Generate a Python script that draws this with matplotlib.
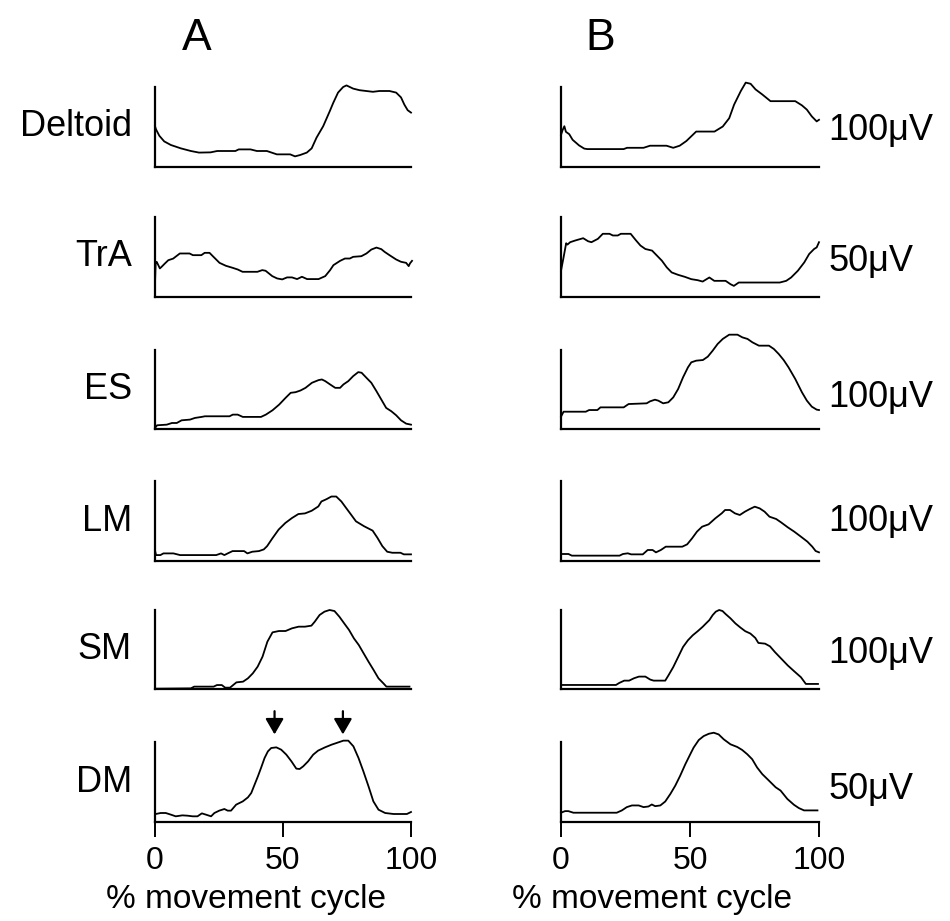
import matplotlib
matplotlib.use("Agg")
import matplotlib.pyplot as plt

plt.rcParams['font.family'] = ['Liberation Sans', 'DejaVu Sans']

# ---------------- data (x: % movement cycle, y: fraction of scale bar) ----------------
muscles = ["Deltoid", "TrA", "ES", "LM", "SM", "DM"]
scale_labels = ["100μV", "50μV", "100μV", "100μV", "100μV", "50μV"]
xticks = [0, 50, 100]
xlabel = "% movement cycle"
panel_titles = ["A", "B"]
arrow_x = [46.7, 73.4]

deltoid_a_x = [0, 0.4, 1.7, 3.6, 6.2, 10.1, 14.0, 17.2, 21.7, 24.3, 31.4, 32.7, 37.3, 39.8, 43.7, 47.6, 52.8, 54.7, 56.7, 59.3, 61.2, 63.1, 65.7, 68.3, 69.6, 71.5, 73.5, 74.8, 77.4, 79.9, 85.1, 87.7, 91.6, 94.2, 96.1, 97.4, 98.7, 100]
deltoid_a_y = [0.51, 0.47, 0.39, 0.32, 0.275, 0.233, 0.2, 0.18, 0.183, 0.2, 0.2, 0.22, 0.22, 0.2, 0.2, 0.158, 0.158, 0.133, 0.15, 0.18, 0.233, 0.367, 0.51, 0.7, 0.8, 0.93, 1.0, 1.02, 0.98, 0.96, 0.94, 0.95, 0.95, 0.93, 0.87, 0.78, 0.71, 0.68]

deltoid_b_x = [0, 0.6, 1.3, 1.9, 3.2, 4.5, 7.0, 9.0, 10.2, 24.3, 25.6, 32.0, 34.5, 40.9, 43.5, 46.0, 48.6, 52.4, 59.5, 62.7, 65.2, 67.1, 69.7, 71.6, 73.5, 75.4, 78.0, 81.2, 90.8, 93.4, 95.3, 97.2, 99.1, 100]
deltoid_b_y = [0.40, 0.46, 0.51, 0.44, 0.41, 0.34, 0.27, 0.23, 0.224, 0.224, 0.24, 0.24, 0.266, 0.266, 0.24, 0.266, 0.325, 0.443, 0.443, 0.506, 0.61, 0.78, 0.95, 1.055, 1.04, 0.97, 0.907, 0.823, 0.823, 0.77, 0.717, 0.633, 0.57, 0.59]

tra_a_x = [0, 0.26, 0.65, 1.3, 1.9, 2.6, 3.9, 5.2, 7.1, 9.7, 13.5, 14.8, 18.1, 19.4, 21.3, 22.6, 25.2, 27.7, 30.3, 32.3, 34.2, 40.0, 41.9, 43.2, 45.8, 47.7, 49.7, 51.6, 53.5, 55.5, 57.4, 59.4, 63.9, 66.5, 68.4, 69.7, 72.3, 74.2, 76.1, 77.4, 80.6, 82.6, 84.5, 86.5, 88.4, 89.7, 91.6, 94.2, 96.1, 98.1, 99.1, 99.6, 100.4]
tra_a_y = [0.17, 0.427, 0.44, 0.398, 0.357, 0.378, 0.42, 0.46, 0.48, 0.544, 0.544, 0.523, 0.523, 0.552, 0.552, 0.51, 0.427, 0.39, 0.365, 0.344, 0.315, 0.315, 0.336, 0.328, 0.261, 0.232, 0.22, 0.245, 0.245, 0.224, 0.253, 0.224, 0.224, 0.261, 0.336, 0.398, 0.452, 0.481, 0.481, 0.502, 0.51, 0.544, 0.593, 0.618, 0.598, 0.564, 0.523, 0.469, 0.44, 0.427, 0.386, 0.42, 0.452]

tra_b_x = [0, 1.0, 2.0, 2.5, 3.55, 5.5, 8.6, 10.5, 11.8, 14.3, 16.2, 18.8, 20.1, 22.0, 23.2, 27.0, 28.9, 30.8, 32.7, 35.3, 37.2, 39.1, 41.0, 42.9, 45.4, 48.0, 50.5, 53.0, 54.9, 57.5, 59.4, 63.8, 65.7, 67.0, 68.9, 84.8, 87.3, 89.2, 91.8, 94.3, 96.2, 98.1, 99.1, 100]
tra_b_y = [0.328, 0.496, 0.672, 0.655, 0.685, 0.706, 0.735, 0.697, 0.685, 0.727, 0.79, 0.79, 0.769, 0.769, 0.79, 0.79, 0.714, 0.643, 0.60, 0.58, 0.517, 0.454, 0.37, 0.307, 0.277, 0.252, 0.223, 0.21, 0.193, 0.244, 0.202, 0.202, 0.16, 0.139, 0.181, 0.181, 0.202, 0.244, 0.328, 0.433, 0.538, 0.60, 0.62, 0.685]

es_a_x = [0, 0.8, 4.6, 6.6, 8.5, 10.4, 13.7, 15.6, 18.2, 19.5, 29.1, 30.4, 32.3, 34.3, 41.4, 43.3, 45.9, 48.5, 51.0, 53.0, 54.9, 56.8, 58.8, 61.3, 63.9, 65.2, 66.5, 68.4, 70.4, 72.3, 73.6, 75.5, 77.4, 79.4, 80.7, 82.6, 84.5, 86.5, 88.4, 90.3, 92.3, 94.2, 96.1, 98.1, 100]
es_a_y = [0.013, 0.047, 0.055, 0.076, 0.076, 0.11, 0.119, 0.14, 0.153, 0.161, 0.161, 0.182, 0.182, 0.153, 0.153, 0.182, 0.237, 0.309, 0.394, 0.458, 0.466, 0.487, 0.521, 0.585, 0.619, 0.627, 0.606, 0.564, 0.521, 0.521, 0.564, 0.606, 0.669, 0.72, 0.712, 0.648, 0.585, 0.479, 0.373, 0.267, 0.225, 0.174, 0.11, 0.068, 0.055]

es_b_x = [0, 1.0, 9.6, 10.9, 14.1, 15.3, 24.3, 26.2, 33.2, 34.5, 36.4, 37.7, 39.6, 41.6, 43.5, 45.4, 47.3, 49.2, 50.5, 52.4, 55.0, 56.9, 58.8, 60.7, 62.7, 65.2, 68.4, 70.3, 72.3, 74.2, 76.7, 80.6, 82.5, 84.4, 86.3, 88.2, 90.8, 93.4, 95.3, 97.2, 99.1, 100]
es_b_y = [0.156, 0.219, 0.219, 0.24, 0.24, 0.274, 0.274, 0.316, 0.325, 0.35, 0.371, 0.359, 0.325, 0.338, 0.40, 0.506, 0.654, 0.78, 0.844, 0.865, 0.873, 0.916, 0.992, 1.076, 1.14, 1.194, 1.194, 1.16, 1.14, 1.097, 1.055, 1.055, 1.013, 0.949, 0.873, 0.78, 0.633, 0.464, 0.359, 0.283, 0.245, 0.24]

lm_a_x = [0, 0.4, 2.1, 3.3, 7.2, 9.8, 23.9, 25.8, 27.1, 28.4, 30.3, 34.8, 36.1, 38.0, 40.6, 42.5, 43.8, 45.8, 48.3, 50.9, 53.5, 56.0, 58.6, 61.2, 63.8, 65.0, 67.0, 68.9, 70.8, 72.8, 74.7, 76.6, 78.5, 81.7, 85.0, 86.9, 88.8, 90.7, 92.7, 95.9, 97.2, 100]
lm_a_y = [0.132, 0.074, 0.074, 0.095, 0.095, 0.074, 0.074, 0.095, 0.074, 0.095, 0.124, 0.124, 0.095, 0.116, 0.124, 0.145, 0.186, 0.281, 0.393, 0.475, 0.537, 0.587, 0.595, 0.628, 0.682, 0.744, 0.773, 0.806, 0.806, 0.744, 0.661, 0.579, 0.496, 0.434, 0.38, 0.289, 0.186, 0.116, 0.103, 0.103, 0.083, 0.083]

lm_b_x = [0, 2.9, 4.2, 22.7, 24.0, 25.9, 27.2, 31.7, 33.6, 35.5, 36.8, 38.7, 40.6, 47.0, 48.9, 50.8, 52.7, 54.7, 57.2, 59.8, 62.3, 63.6, 65.5, 67.4, 69.3, 71.3, 73.2, 75.1, 77.0, 78.9, 80.8, 83.4, 85.3, 87.9, 90.4, 93.0, 95.5, 97.4, 98.7, 100]
lm_b_y = [0.0875, 0.0875, 0.067, 0.067, 0.0875, 0.096, 0.083, 0.083, 0.1375, 0.1375, 0.108, 0.1375, 0.179, 0.179, 0.208, 0.283, 0.367, 0.429, 0.458, 0.533, 0.596, 0.6375, 0.6375, 0.596, 0.575, 0.617, 0.65, 0.679, 0.658, 0.617, 0.554, 0.525, 0.483, 0.421, 0.367, 0.304, 0.242, 0.179, 0.125, 0.108]

sm_a_x = [0, 14.0, 15.3, 22.9, 24.2, 26.1, 27.4, 29.3, 31.8, 34.4, 36.3, 38.2, 40.1, 42.0, 43.9, 45.9, 48.4, 51.0, 53.5, 56.1, 58.6, 61.1, 62.4, 64.3, 66.2, 68.2, 70.1, 72.0, 73.9, 75.8, 77.7, 79.6, 81.5, 83.4, 85.4, 87.3, 89.2, 90.4, 99.4]
sm_a_y = [0.004, 0.008, 0.03, 0.03, 0.05, 0.05, 0.017, 0.017, 0.084, 0.093, 0.135, 0.198, 0.283, 0.409, 0.599, 0.717, 0.734, 0.734, 0.768, 0.789, 0.789, 0.802, 0.852, 0.937, 0.979, 1.0, 0.987, 0.916, 0.831, 0.747, 0.641, 0.557, 0.451, 0.346, 0.24, 0.135, 0.072, 0.03, 0.03]

sm_b_x = [0, 21.3, 22.6, 24.5, 26.4, 28.3, 30.2, 32.7, 34.6, 35.9, 40.4, 41.6, 43.5, 45.4, 47.3, 49.2, 51.1, 53.0, 54.9, 56.2, 57.5, 58.8, 60.0, 61.3, 62.6, 63.8, 65.7, 67.6, 69.5, 71.4, 73.4, 75.3, 76.5, 79.1, 81.0, 82.9, 85.4, 87.9, 90.5, 93.0, 94.9, 99.6]
sm_b_y = [0.051, 0.051, 0.077, 0.106, 0.106, 0.136, 0.157, 0.157, 0.119, 0.106, 0.106, 0.17, 0.277, 0.404, 0.532, 0.617, 0.681, 0.732, 0.787, 0.83, 0.872, 0.936, 0.979, 1.0, 0.987, 0.949, 0.894, 0.83, 0.779, 0.732, 0.702, 0.647, 0.583, 0.574, 0.54, 0.468, 0.383, 0.298, 0.221, 0.149, 0.064, 0.064]

dm_a_x = [0.3, 2.2, 4.2, 6.2, 8.1, 10.7, 12.7, 14.7, 16.6, 18.3, 19.9, 21.9, 23.2, 25.1, 27.1, 28.4, 29.7, 31.7, 34.3, 36.3, 37.6, 38.9, 40.2, 41.5, 42.8, 44.1, 45.4, 47.4, 49.3, 51.3, 53.3, 55.2, 56.5, 57.9, 59.8, 61.8, 63.7, 66.4, 69.0, 70.9, 73.6, 75.5, 77.5, 79.5, 81.4, 83.4, 85.3, 87.3, 89.9, 93.2, 98.4, 100]
dm_a_y = [0.1, 0.1125, 0.1125, 0.092, 0.071, 0.083, 0.079, 0.071, 0.071, 0.108, 0.092, 0.071, 0.1125, 0.142, 0.1625, 0.142, 0.142, 0.217, 0.258, 0.308, 0.3625, 0.467, 0.571, 0.683, 0.8, 0.883, 0.925, 0.933, 0.904, 0.842, 0.758, 0.667, 0.6625, 0.696, 0.758, 0.842, 0.892, 0.933, 0.967, 0.9875, 1.017, 1.017, 0.946, 0.8, 0.633, 0.446, 0.258, 0.154, 0.1125, 0.1, 0.1, 0.125]

dm_b_x = [0, 1.55, 2.85, 4.8, 21.6, 23.6, 25.5, 27.5, 30.1, 32.0, 33.9, 35.2, 36.5, 38.5, 40.4, 42.4, 44.3, 46.2, 48.2, 50.1, 51.4, 53.4, 55.3, 57.3, 59.2, 61.1, 63.1, 65.7, 68.3, 70.2, 72.2, 74.1, 76.0, 78.0, 80.6, 83.2, 85.1, 87.7, 90.3, 92.2, 94.2, 99.4]
dm_b_y = [0.116, 0.136, 0.136, 0.116, 0.116, 0.145, 0.186, 0.207, 0.207, 0.186, 0.194, 0.219, 0.198, 0.207, 0.256, 0.351, 0.455, 0.579, 0.723, 0.847, 0.93, 1.025, 1.074, 1.103, 1.116, 1.095, 1.033, 0.971, 0.938, 0.901, 0.847, 0.785, 0.682, 0.599, 0.517, 0.434, 0.393, 0.289, 0.215, 0.174, 0.145, 0.145]

col_a = [(deltoid_a_x, deltoid_a_y), (tra_a_x, tra_a_y), (es_a_x, es_a_y),
         (lm_a_x, lm_a_y), (sm_a_x, sm_a_y), (dm_a_x, dm_a_y)]
col_b = [(deltoid_b_x, deltoid_b_y), (tra_b_x, tra_b_y), (es_b_x, es_b_y),
         (lm_b_x, lm_b_y), (sm_b_x, sm_b_y), (dm_b_x, dm_b_y)]

# ---------------- layout (pixels) ----------------
W, H = 950, 921
fig = plt.figure(figsize=(W / 100, H / 100), dpi=100)
row_top = [87, 217, 350, 481, 610, 742]
row_bot = [167, 297, 429, 561, 689, 822]
col_left = [155, 561]
col_width = [256, 258]
scale_y = [130, 262, 397, 521, 654, 789]
xlabel_cx = [246, 652]

def add_ax(cx, r):
    l = col_left[cx] / W
    b = 1 - row_bot[r] / H
    h = (row_bot[r] - row_top[r]) / H
    w = col_width[cx] / W
    ax = fig.add_axes([l, b, w, h])
    ax.set_xlim(0, 100)
    ax.set_ylim(0, 1)
    for s in ["top", "right"]:
        ax.spines[s].set_visible(False)
    ax.spines["left"].set_linewidth(1.6)
    ax.spines["bottom"].set_linewidth(1.6)
    ax.set_yticks([])
    ax.patch.set_alpha(0)
    return ax

for r in range(6):
    for cx, col in enumerate([col_a, col_b]):
        ax = add_ax(cx, r)
        x, y = col[r]
        ax.plot(x, y, color="black", lw=1.3, clip_on=False)
        if r == 5:
            ax.set_xticks(xticks)
            ax.set_xticklabels([str(t) for t in xticks], fontsize=23)
            ax.tick_params(axis="x", direction="out", length=11, width=1.4, pad=6)
        else:
            ax.set_xticks([])
        if cx == 0:
            ax.text(-0.09, 0.5, muscles[r], transform=ax.transAxes,
                    ha="right", va="center", fontsize=26)
        if cx == 0 and r == 5:
            for ax_x in arrow_x:
                ax.annotate("", xy=(ax_x, 1.06), xytext=(ax_x, 1.42),
                            arrowprops=dict(arrowstyle="-|>,head_width=0.55,head_length=0.95",
                                            color="black", lw=1.6),
                            annotation_clip=False)

# x labels
for cx in range(2):
    fig.text(xlabel_cx[cx] / W, 1 - 899 / H, xlabel, ha="center", va="center", fontsize=24)

# scale labels
for r in range(6):
    fig.text(828 / W, 1 - scale_y[r] / H, scale_labels[r], ha="left", va="center", fontsize=26)

# panel titles
fig.text(197 / W, 1 - 38 / H, panel_titles[0], ha="center", va="center", fontsize=32)
fig.text(600 / W, 1 - 38 / H, panel_titles[1], ha="center", va="center", fontsize=32)

fig.savefig("out.png", dpi=100, facecolor="white")
